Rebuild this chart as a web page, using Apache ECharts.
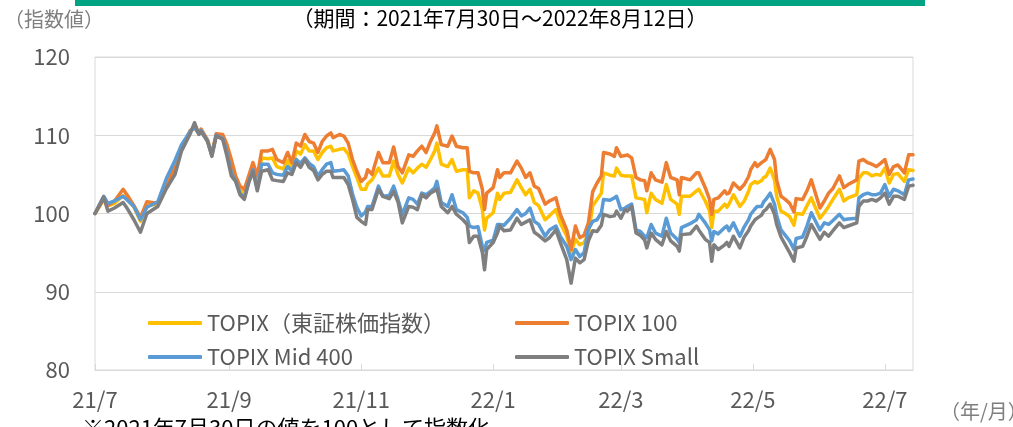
<!DOCTYPE html>
<html>
<head>
<meta charset="utf-8">
<script src="https://cdn.jsdelivr.net/npm/echarts@6/dist/echarts.min.js"></script>
<style>
html, body { margin: 0; padding: 0; background: #fff; }
#main { width: 1013px; height: 427px; }
</style>
</head>
<body>
<div id="main"></div>
<script>
// 2021/7/30 からの経過日数
var dayOffsets = [0,4,6,9,13,15,18,21,24,29,
  33,37,40,44,46,48,49,52,54,56,
  59,61,63,65,67,69,71,73,75,77,
  80,82,84,87,89,91,93,95,97,99,
  101,103,105,107,109,110,113,115,117,119,
  121,123,125,126,128,131,133,136,138,140,
  142,145,147,149,151,153,155,157,158,160,
  163,165,167,170,172,173,175,177,179,180,
  181,184,186,187,189,192,195,197,199,201,
  203,205,208,210,213,215,218,220,222,224,
  226,228,230,232,234,235,238,240,241,243,
  245,246,248,250,252,254,255,257,259,262,
  264,266,269,270,271,275,278,279,282,284,
  285,286,288,291,292,293,295,298,300,302,
  303,305,306,308,309,310,312,314,315,317,
  319,321,323,324,327,329,331,335,337,339,
  341,344,346,348,352,353,355,357,359,361,
  363,365,367,369,371,374,376,378];

var topix = [100,101.8,101.0,101.3,102.3,101.8,100.8,99.0,101.0,101.2,
  103.6,106.2,108.5,110.4,111.2,110.2,110.6,109.3,107.6,110.0,
  109.8,108.0,105.6,104.4,103.0,102.5,104.3,105.8,103.8,107.1,
  107.0,107.1,106.0,105.7,106.8,105.8,108.0,107.6,108.8,108.0,
  108.0,106.9,107.8,108.4,108.6,108.0,108.2,108.3,107.6,106.0,
  104.6,103.1,103.1,103.8,104.3,105.8,104.8,104.8,106.7,105.0,
  103.9,105.8,105.2,105.8,106.3,105.9,106.9,108.0,109.0,106.3,
  106.0,106.9,105.4,105.6,105.6,102.0,102.9,102.6,100.5,97.9,
  99.4,100.1,102.6,101.8,102.6,102.7,104.3,103.3,102.4,103.1,
  101.4,101.0,99.2,99.7,100.5,98.8,97.1,95.0,96.7,96.0,
  96.3,97.4,101.0,101.8,102.6,105.2,104.9,104.8,105.8,104.9,
  104.8,104.8,104.8,102.0,101.9,101.8,100.1,102.6,101.8,101.3,
  103.7,101.8,101.2,99.9,102.2,102.2,102.9,103.1,101.6,100.3,
  98.2,100.3,100.3,101.2,100.8,101.2,102.4,100.9,101.6,102.8,
  103.7,104.1,103.9,104.2,104.6,104.7,105.8,104.3,102.2,100.3,
  100.0,99.6,98.5,100.0,99.9,101.0,102.0,99.4,100.1,100.9,
  101.8,103.1,101.6,102.0,102.4,104.5,105.2,105.2,104.8,105.0,
  104.9,105.8,103.9,105.0,105.1,104.1,105.6,105.5];

var topix100 = [100,101.8,101.0,101.6,103.1,102.3,101.0,99.5,101.5,101.3,
  103.5,106.0,108.3,110.6,111.0,110.2,110.8,109.4,107.6,110.2,
  110.1,108.8,106.9,104.8,103.5,103.1,104.8,106.5,104.8,108.0,
  108.0,108.2,106.9,106.5,107.8,106.5,109.0,108.6,110.1,109.2,
  109.0,107.8,109.2,109.9,110.3,109.7,110.1,109.9,109.0,106.9,
  105.4,104.1,104.6,105.6,105.0,107.8,106.5,106.5,108.5,106.0,
  105.2,107.5,107.3,108.0,108.6,107.8,109.2,110.3,111.2,108.8,
  108.6,109.9,108.6,108.4,108.4,105.4,105.2,105.2,103.1,100.5,
  102.6,103.3,105.6,104.6,105.2,105.2,106.7,105.8,104.6,105.2,
  103.5,103.2,101.2,101.6,102.0,99.9,97.9,95.4,98.4,96.9,
  97.2,98.8,102.8,103.9,104.8,107.8,107.6,107.3,108.4,107.3,
  107.4,107.5,107.1,104.6,104.3,104.2,102.9,105.2,104.3,104.0,
  106.5,104.6,104.3,102.4,104.6,104.3,105.2,105.2,103.3,101.8,
  99.9,101.8,102.0,102.9,102.5,102.6,103.9,103.1,103.7,104.7,
  105.6,106.5,106.0,106.5,106.7,106.9,108.2,106.9,104.3,102.2,
  101.8,101.3,100.2,101.9,101.8,102.9,104.3,100.7,101.6,102.6,
  103.2,104.8,103.3,103.7,104.3,106.7,106.9,106.5,106.3,106.0,
  106.4,106.9,105.0,106.0,106.2,105.2,107.5,107.5];

var mid400 = [100,102.2,101.3,101.6,102.2,101.7,100.9,99.2,100.8,101.5,
  104.5,106.8,108.8,110.5,111.0,110.2,110.6,109.3,107.4,110.0,
  109.6,107.8,105.2,104.2,102.6,102.0,104.0,105.6,103.2,106.3,
  106.3,105.2,105.0,104.9,106.0,105.4,106.9,106.4,107.1,106.4,
  106.0,104.8,105.6,106.3,106.5,105.4,105.5,105.6,104.8,102.5,
  100.8,99.7,100.2,100.9,100.9,103.5,102.2,102.3,103.5,101.8,
  99.9,102.0,101.8,101.2,102.6,102.4,102.8,103.3,104.1,101.4,
  100.9,102.4,100.5,100.1,99.5,98.4,98.2,98.3,95.8,95.3,
  96.3,96.6,98.6,98.6,98.5,99.4,100.5,99.7,100.0,100.7,
  99.0,98.6,97.1,97.9,98.4,97.1,95.8,94.1,95.4,94.5,
  95.0,98.0,99.0,99.2,100.1,101.8,101.7,102.0,102.2,100.5,
  100.7,100.9,101.2,97.9,97.7,97.1,96.9,98.6,97.5,97.1,
  99.4,97.5,96.7,96.3,98.2,98.7,99.2,99.9,98.8,97.9,
  96.5,97.7,97.4,98.2,98.4,97.8,98.8,97.1,98.3,99.2,
  99.9,100.6,100.9,100.9,101.5,101.8,102.6,101.2,99.7,97.9,
  97.2,96.5,95.4,96.8,97.0,98.4,100.1,97.9,98.8,98.6,
  99.1,99.9,99.2,99.3,99.4,102.0,102.4,102.6,102.4,102.4,
  102.6,103.7,102.2,103.1,102.9,102.4,104.3,104.4];

var small = [100,102.1,100.3,100.7,101.4,100.6,99.2,97.6,100.0,100.9,
  103.2,105.0,108.0,110.2,111.6,110.1,110.5,109.2,107.3,109.9,
  109.5,107.3,104.8,104.1,102.4,101.8,103.9,105.4,102.9,105.4,
  105.6,104.3,104.2,104.1,105.2,105.0,106.5,105.9,106.9,105.9,
  105.5,104.3,105.0,105.4,105.4,104.6,104.6,104.6,103.7,101.8,
  99.5,99.0,98.6,100.5,100.5,103.1,102.2,101.9,102.8,101.5,
  98.8,100.9,100.8,100.5,102.4,102.0,102.6,102.9,103.1,100.9,
  100.1,100.9,99.9,99.2,98.6,96.3,97.1,97.1,95.0,92.8,
  95.4,96.3,97.5,98.4,97.8,97.9,99.4,98.6,98.9,99.2,
  97.6,97.2,96.5,96.9,97.9,96.3,94.1,91.1,94.3,93.7,
  94.1,96.5,97.8,97.7,98.5,99.9,99.6,99.7,100.3,99.4,
  100.5,100.3,100.9,97.5,97.2,96.6,95.6,97.5,96.7,96.0,
  97.7,96.5,95.8,95.2,97.3,97.4,98.4,97.9,96.7,96.3,
  93.9,96.0,95.4,96.0,96.3,95.8,97.1,95.6,97.0,97.8,
  98.4,99.2,99.4,99.8,100.3,100.5,101.2,99.9,98.6,97.0,
  96.0,95.0,93.9,95.6,95.8,97.1,98.6,96.7,97.6,97.1,
  97.8,98.8,98.2,98.4,98.8,100.9,101.6,101.6,101.8,101.6,
  102.0,102.6,101.2,102.2,102.2,101.8,103.5,103.6];

var seriesNames = ['TOPIX（東証株価指数）', 'TOPIX 100', 'TOPIX Mid 400', 'TOPIX Small'];
var seriesColors = ['#FFC000', '#ED7D31', '#5B9BD5', '#7F7F7F'];
var monthDays = [0, 62, 123, 184, 243, 304, 365];
var monthLabels = ['21/7', '21/9', '21/11', '22/1', '22/3', '22/5', '22/7'];

var FONT = "'Noto Sans CJK JP', sans-serif";

function pairs(vals) {
  return vals.map(function (v, i) { return [dayOffsets[i], v]; });
}

var chart = echarts.init(document.getElementById('main'));

var allValues = [topix, topix100, mid400, small];
var series = allValues.map(function (vals, i) {
  return {
    name: seriesNames[i],
    type: 'line',
    data: pairs(vals),
    showSymbol: false,
    symbol: 'none',
    lineStyle: { width: 3.5, color: seriesColors[i], join: 'round', cap: 'round' },
    itemStyle: { color: seriesColors[i] }
  };
});

var legendBase = {
  orient: 'vertical',
  top: 307,
  itemWidth: 54,
  itemHeight: 4,
  itemGap: 12,
  icon: 'roundRect',
  textStyle: { fontFamily: FONT, fontSize: 22, color: '#595959', lineHeight: 22 }
};

var option = {
  animation: false,
  grid: {
    left: 95, right: 100, top: 57, bottom: 57,
    show: true, borderColor: '#d9d9d9', borderWidth: 1
  },
  legend: [
    Object.assign({}, legendBase, { left: 143, data: [seriesNames[0], seriesNames[2]] }),
    Object.assign({}, legendBase, { left: 510, data: [seriesNames[1], seriesNames[3]] })
  ],
  xAxis: {
    type: 'value',
    min: 0,
    max: 378,
    splitLine: { show: false },
    axisLine: { show: true, lineStyle: { color: '#d9d9d9', width: 1 } },
    axisTick: {
      show: true, inside: true, length: 6,
      customValues: monthDays,
      lineStyle: { color: '#d9d9d9' }
    },
    axisLabel: {
      customValues: monthDays,
      margin: 19,
      fontFamily: FONT, fontSize: 22, color: '#595959',
      formatter: function (v) {
        var k = monthDays.indexOf(Math.round(v));
        return k >= 0 ? monthLabels[k] : '';
      }
    }
  },
  yAxis: {
    type: 'value',
    min: 80,
    max: 120,
    interval: 10,
    axisLine: { show: false },
    axisTick: { show: false },
    splitLine: { lineStyle: { color: '#d9d9d9', width: 1 } },
    axisLabel: { margin: 25, fontFamily: FONT, fontSize: 22, color: '#595959' }
  },
  graphic: [
    { type: 'rect', left: 75, top: 0, shape: { width: 850, height: 6 }, style: { fill: '#00A382' } },
    { type: 'text', left: 4, top: 9, style: { text: '（指数値）', font: '20px ' + FONT, fill: '#7f7f7f' } },
    { type: 'text', x: 500, y: 8, style: { text: '（期間：2021年7月30日～2022年8月12日）', font: '21px ' + FONT, fill: '#000', textAlign: 'center' } },
    { type: 'text', left: 940, top: 401, style: { text: '（年/月）', font: '20px ' + FONT, fill: '#7f7f7f' } },
    { type: 'text', left: 82, top: 417, style: { text: '※2021年7月30日の値を100として指数化', font: '22px ' + FONT, fill: '#000' } }
  ],
  series: series
};

chart.setOption(option);
</script>
</body>
</html>
